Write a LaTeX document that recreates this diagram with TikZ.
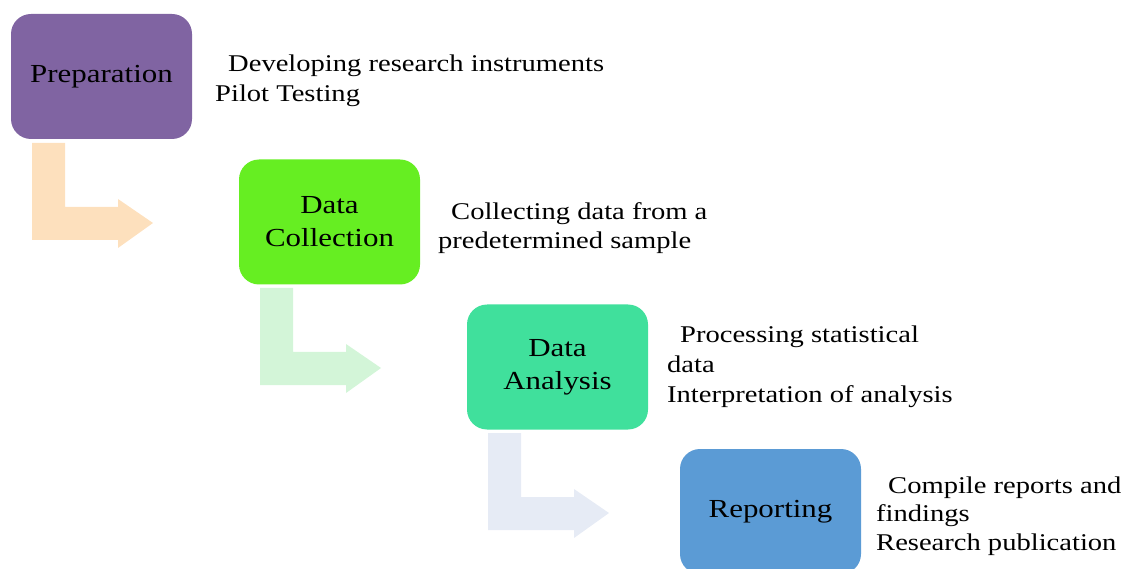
\documentclass[tikz,border=0pt]{standalone}
\usepackage{fontspec}
\setmainfont[FakeStretch=1.19]{Liberation Serif}
\definecolor{prepc}{HTML}{8064A2}
\definecolor{collc}{HTML}{66EE22}
\definecolor{analc}{HTML}{40E09C}
\definecolor{repc}{HTML}{5B9BD5}
\definecolor{arr1}{HTML}{FDE0BD}
\definecolor{arr2}{HTML}{D3F5D8}
\definecolor{arr3}{HTML}{E6EBF5}
\begin{document}
\begin{tikzpicture}[x=1pt,y=-1pt,
  box/.style={rounded corners=20pt, minimum width=181pt, minimum height=125pt, inner sep=0pt,
    align=center, font=\fontsize{26}{33}\selectfont},
  desc/.style={anchor=base west, inner sep=0pt, font=\fontsize{24}{29}\selectfont}]
\useasboundingbox (0,0) rectangle (1130,569);
\clip (0,0) rectangle (1130,569);
% bent arrows
\newcommand{\bentarrow}[3]{%
  \fill[#3] (#1+32,#2+143) -- (#1+65,#2+143) -- (#1+65,#2+207) -- (#1+118,#2+207)
    -- (#1+118,#2+199) -- (#1+153,#2+223) -- (#1+118,#2+248) -- (#1+118,#2+240)
    -- (#1+32,#2+240) -- cycle;}
\bentarrow{0}{0}{arr1}
\bentarrow{228}{145}{arr2}
\bentarrow{456}{290}{arr3}
% boxes
\node[box, fill=prepc] (prep) at (101.5,76.5) {Preparation};
\node[box, fill=collc] (coll) at (329.5,222) {Data\\Collection};
\node[box, fill=analc] (anal) at (557.5,367) {Data\\Analysis};
\node[box, fill=repc] (rep) at (770.5,511.5) {Reporting};
% descriptions
\node[desc] (p1) at (228,72) {Developing research instruments};
\node[desc] (p2) at (215,102) {Pilot Testing};
\node[desc] (c1) at (451,220) {Collecting data from a};
\node[desc] (c2) at (438,249) {predetermined sample};
\node[desc] (a1) at (680,343) {Processing statistical};
\node[desc] (a2) at (667,373) {data};
\node[desc] (a3) at (667,402) {Interpretation of analysis};
\node[desc] (r1) at (888,493) {Compile reports and};
\node[desc] (r2) at (876,521) {findings};
\node[desc] (r3) at (876,550) {Research publication};
\end{tikzpicture}
\end{document}
